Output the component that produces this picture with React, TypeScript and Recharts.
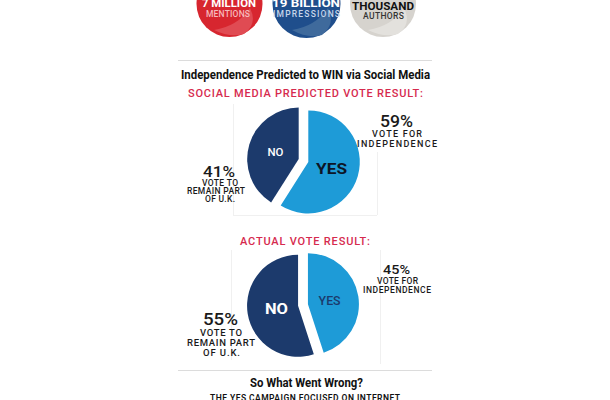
import React from "react";
import { PieChart, Pie, Cell } from "recharts";

// vote shares
const sliceNames = ["YES", "NO"];
const predictedShare = [59, 41];
const actualShare = [45, 55];

const sliceColors = ["#1e9bd7", "#1c3a6c"];
const FONT = "Roboto, 'DejaVu Sans', sans-serif";

const toRows = (values: number[]) =>
  sliceNames.map((name, i) => ({ name, value: values[i] }));

// push a slice out along its own mid angle (pie starts at 12 o'clock, clockwise)
const explode = (values: number[], idx: number, dist: number) => {
  const total = values.reduce((a, b) => a + b, 0);
  const before = values.slice(0, idx).reduce((a, b) => a + b, 0);
  const mid = 90 - (360 * (before + values[idx] / 2)) / total;
  const rad = (mid * Math.PI) / 180;
  return { dx: dist * Math.cos(rad), dy: -dist * Math.sin(rad) };
};

interface SliceLabelStyle {
  size: number;
  weight: number;
  fill: string;
  width: number;
}

const makeLabel =
  (idx: number, frac: number, styles: SliceLabelStyle[]) => (props: any) => {
    if (props.index !== idx) return null;
    const { cx, cy, midAngle, outerRadius, name } = props;
    const rad = (midAngle * Math.PI) / 180;
    const x = cx + outerRadius * frac * Math.cos(rad);
    const y = cy - outerRadius * frac * Math.sin(rad);
    const s = styles[idx];
    return (
      <text
        x={x}
        y={y}
        textAnchor="middle"
        dominantBaseline="central"
        fontFamily={FONT}
        fontSize={s.size}
        fontWeight={s.weight}
        fill={s.fill}
        textLength={s.width}
        lengthAdjust="spacingAndGlyphs"
      >
        {name}
      </text>
    );
  };

const predictedLabels: SliceLabelStyle[] = [
  { size: 15, weight: 700, fill: "#0d1526", width: 31 },
  { size: 11.5, weight: 500, fill: "#ffffff", width: 16 },
];
const actualLabels: SliceLabelStyle[] = [
  { size: 13, weight: 500, fill: "#1c3a6c", width: 22 },
  { size: 15, weight: 700, fill: "#ffffff", width: 23 },
];

const renderExploded = (
  key: string,
  values: number[],
  cx: number,
  cy: number,
  r: number,
  frac: number,
  styles: SliceLabelStyle[]
) =>
  sliceNames.map((_, idx) => {
    const { dx, dy } = explode(values, idx, 5);
    return (
      <Pie
        key={`${key}-${idx}`}
        data={toRows(values)}
        dataKey="value"
        nameKey="name"
        cx={cx + dx}
        cy={cy + dy}
        outerRadius={r}
        startAngle={90}
        endAngle={-270}
        stroke="none"
        labelLine={false}
        label={makeLabel(idx, frac, styles)}
        isAnimationActive={false}
      >
        {sliceNames.map((n, i) => (
          <Cell key={n} fill={i === idx ? sliceColors[i] : "transparent"} />
        ))}
      </Pie>
    );
  });

const T = ({
  x,
  y,
  w,
  size = 9,
  weight = 500,
  fill = "#1a1a1a",
  adjust = "spacing",
  children,
}: {
  x: number;
  y: number;
  w: number;
  size?: number;
  weight?: number;
  fill?: string;
  adjust?: "spacing" | "spacingAndGlyphs";
  children: React.ReactNode;
}) => (
  <text
    x={x}
    y={y}
    textAnchor="middle"
    fontFamily={FONT}
    fontSize={size}
    fontWeight={weight}
    fill={fill}
    textLength={w}
    lengthAdjust={adjust}
  >
    {children}
  </text>
);

const SG = "spacingAndGlyphs" as const;

const App = () => {
  return (
    <div
      style={{
        position: "absolute",
        left: 0,
        top: 0,
        width: 610,
        height: 400,
        background: "#ffffff",
        overflow: "hidden",
      }}
    >
      {/* badges, rules and frames */}
      <svg
        width={610}
        height={400}
        style={{ position: "absolute", left: 0, top: 0 }}
      >
        <circle cx={229.5} cy={4} r={33} fill="#d7262f" />
        <path d="M214 30 Q238 26 250 8 Q258 24 244 34 Q230 38 214 30Z" fill="#e04b53" />
        <circle cx={306.5} cy={4} r={34} fill="#1f4e8c" />
        <path d="M292 30 Q316 26 328 8 Q336 24 322 35 Q308 39 292 30Z" fill="#3f6a9c" />
        <circle cx={383} cy={4} r={33} fill="#d6d3ce" />
        <path d="M368 30 Q392 26 404 8 Q412 24 398 34 Q384 38 368 30Z" fill="#e3e1dd" />

        <line x1={178} x2={432} y1={60.5} y2={60.5} stroke="#dcdcdc" />
        <line x1={178} x2={432} y1={370.5} y2={370.5} stroke="#dcdcdc" />

        <line x1={233.5} x2={233.5} y1={104} y2={215} stroke="#f0f0f0" />
        <line x1={233} x2={377} y1={215.5} y2={215.5} stroke="#f0f0f0" />
        <line x1={377.5} x2={377.5} y1={152} y2={215} stroke="#f0f0f0" />
        <line x1={231.5} x2={231.5} y1={250} y2={360} stroke="#f0f0f0" />
        <line x1={380.5} x2={380.5} y1={250} y2={364} stroke="#f0f0f0" />
      </svg>

      <div style={{ position: "absolute", left: 0, top: 0 }}>
        <PieChart width={610} height={400} margin={{ top: 0, right: 0, bottom: 0, left: 0 }}>
          {renderExploded("pred", predictedShare, 303.5, 160.5, 51.5, 0.47, predictedLabels)}
          {renderExploded("act", actualShare, 303, 305, 51, 0.43, actualLabels)}
        </PieChart>
      </div>

      {/* text layer */}
      <svg
        width={610}
        height={400}
        style={{ position: "absolute", left: 0, top: 0, pointerEvents: "none" }}
      >
        <T x={229} y={7} w={54} size={11.5} weight={700} fill="#ffffff" adjust={SG}>7 MILLION</T>
        <T x={228} y={16.5} w={44} size={8.5} fill="#f6b9bc">MENTIONS</T>
        <T x={306} y={7} w={68} size={11.5} weight={700} fill="#ffffff" adjust={SG}>19 BILLION</T>
        <T x={306.5} y={17} w={67} size={8.5} fill="#c6d5ea">IMPRESSIONS</T>
        <T x={383} y={-1.5} w={34} size={11} weight={700} fill="#111111" adjust={SG}>150</T>
        <T x={383} y={10} w={62} size={11.5} weight={700} fill="#111111" adjust={SG}>THOUSAND</T>
        <T x={383.5} y={18.5} w={41} size={8.5} fill="#333333">AUTHORS</T>

        <T x={305.5} y={78.5} w={249} size={12} weight={700} fill="#111111" adjust={SG}>
          Independence Predicted to WIN via Social Media
        </T>
        <T x={305.5} y={97} w={235} size={11} fill="#d62a4e">
          SOCIAL MEDIA PREDICTED VOTE RESULT:
        </T>

        <T x={396.5} y={127} w={33} size={17} adjust={SG}>59%</T>
        <T x={397} y={137} w={50} size={9}>VOTE FOR</T>
        <T x={397} y={146.5} w={80} size={9}>INDEPENDENCE</T>
        <T x={219} y={177} w={32} size={14} adjust={SG}>41%</T>
        <T x={220} y={185.5} w={36} size={8.5}>VOTE TO</T>
        <T x={216} y={193.5} w={58} size={8.5}>REMAIN PART</T>
        <T x={220} y={202} w={30} size={8.5}>OF U.K.</T>

        <T x={305} y={245} w={130} size={11} fill="#d62a4e">ACTUAL VOTE RESULT:</T>

        <T x={396.5} y={274} w={27} size={13} adjust={SG}>45%</T>
        <T x={397.5} y={284} w={41} size={8.5}>VOTE FOR</T>
        <T x={397} y={293} w={68} size={8.5}>INDEPENDENCE</T>
        <T x={220.5} y={325} w={35} size={16} adjust={SG}>55%</T>
        <T x={221} y={335.5} w={42} size={9.5}>VOTE TO</T>
        <T x={221} y={345.5} w={68} size={9.5}>REMAIN PART</T>
        <T x={221.5} y={356} w={37} size={9.5}>OF U.K.</T>

        <T x={306.5} y={387} w={113} size={12} weight={700} fill="#111111" adjust={SG}>
          So What Went Wrong?
        </T>
        <T x={305} y={400.5} w={190} size={8.5} weight={600} fill="#111111">
          THE YES CAMPAIGN FOCUSED ON INTERNET
        </T>
      </svg>
    </div>
  );
};

export default App;
